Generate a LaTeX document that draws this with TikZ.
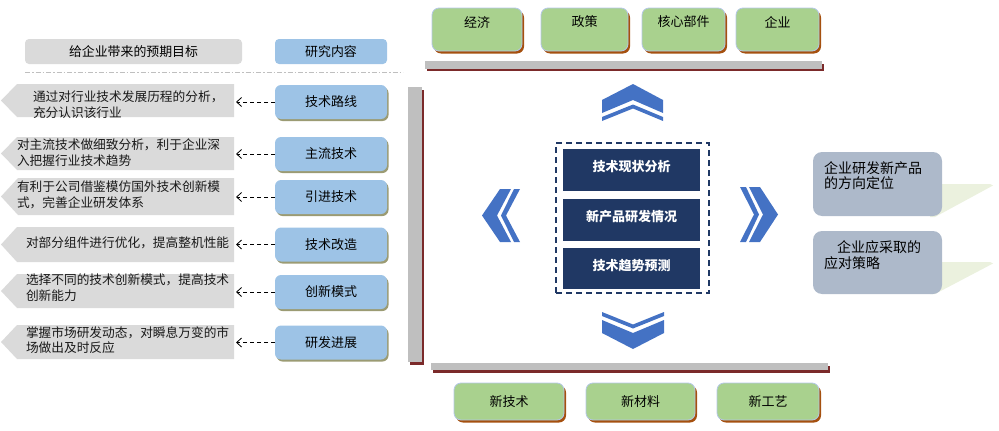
\documentclass[tikz,border=0pt]{standalone}
\usepackage{fontspec}
\newfontfamily\cjk{Noto Sans CJK SC}
\usetikzlibrary{arrows.meta,shadows}
\definecolor{graybox}{HTML}{DADADA}
\definecolor{bluebox}{HTML}{9DC3E6}
\definecolor{blueshadow}{HTML}{9B9B73}
\definecolor{barfill}{HTML}{BFBFBF}
\definecolor{barshadow}{HTML}{7B2A2A}
\definecolor{greenfill}{HTML}{A9D18E}
\definecolor{greenline}{HTML}{B4C7E7}
\definecolor{greenshadow}{HTML}{A5500F}
\definecolor{navy}{HTML}{203864}
\definecolor{chev}{HTML}{4472C4}
\definecolor{rightbox}{HTML}{ADB9CA}
\definecolor{wedgecol}{HTML}{EBF1DE}
\begin{document}
\begin{tikzpicture}[x=1pt,y=-1pt,
  every node/.style={inner sep=0pt, outer sep=0pt},
  lefttext/.style={font=\cjk\fontsize{12.7}{15.5}\selectfont, align=left, anchor=west, text=black!90},
  bluebx/.style={fill=bluebox, rounded corners=6pt, minimum width=112pt, minimum height=34pt,
    drop shadow={shadow xshift=1.5pt, shadow yshift=-2pt, fill=blueshadow, opacity=1},
    font=\cjk\fontsize{13}{15}\selectfont},
  headbx/.style={rounded corners=4pt, minimum height=25pt, font=\cjk\fontsize{12.9}{15}\selectfont},
  greenbx/.style={fill=greenfill, draw=greenline, line width=0.8pt, rounded corners=7pt,
    drop shadow={shadow xshift=2pt, shadow yshift=-2.5pt, fill=greenshadow, opacity=1}},
  greentext/.style={font=\cjk\fontsize{13}{15}\selectfont},
  navybx/.style={fill=navy, minimum width=137pt},
  whitetext/.style={text=white, font=\cjk\bfseries\fontsize{13}{15}\selectfont},
  rightbx/.style={fill=rightbox, rounded corners=9pt, minimum width=129pt},
  righttext/.style={font=\cjk\fontsize{14}{15.5}\selectfont, align=left, anchor=west},
  dasharr/.style={draw=black, dash pattern=on 4pt off 3pt, line width=0.8pt,
    -{Straight Barb[length=5pt,width=9pt]}}
]
\useasboundingbox (0,0) rectangle (999,431);

% ---------- header ----------
\node[headbx, fill=graybox, minimum width=217pt] (h1) at (133.5,51.5) {给企业带来的预期目标};
\node[headbx, fill=bluebox, minimum width=112pt] (h2) at (331,51.5) {研究内容};
\draw[barfill, line width=1pt, dash pattern=on 5pt off 2pt on 1.5pt off 2pt] (25,72) -- (403,72);

% ---------- left rows ----------
% row 1
\fill[graybox] (1,100.5) -- (17,84) -- (234,84) -- (234,117) -- (17,117) -- cycle;
\node[lefttext] (t1) at (33,104.5) {通过对行业技术发展历程的分析，\\充分认识该行业};
\coordinate (g1) at (236,102);
\node[bluebx] (b1) at (331,102) {技术路线};
\draw[dasharr] (b1.west) -- (g1);
% row 2
\fill[graybox] (1,153.5) -- (17,137) -- (234,137) -- (234,170) -- (17,170) -- cycle;
\node[lefttext] (t2) at (17,152.5) {对主流技术做细致分析，利于企业深\\入把握行业技术趋势};
\coordinate (g2) at (236,154);
\node[bluebx] (b2) at (331,154) {主流技术};
\draw[dasharr] (b2.west) -- (g2);
% row 3
\fill[graybox] (1,196.5) -- (18,178) -- (234,178) -- (234,215) -- (18,215) -- cycle;
\node[lefttext] (t3) at (17,195) {有利于公司借鉴模仿国外技术创新模\\式，完善企业研发体系};
\coordinate (g3) at (236,197);
\node[bluebx] (b3) at (331,197) {引进技术};
\draw[dasharr] (b3.west) -- (g3);
% row 4
\fill[graybox] (1,244.5) -- (17,227) -- (234,227) -- (234,262) -- (17,262) -- cycle;
\node[lefttext] (t4) at (26,242.5) {对部分组件进行优化，提高整机性能};
\coordinate (g4) at (236,244.5);
\node[bluebx] (b4) at (331,244.5) {技术改造};
\draw[dasharr] (b4.west) -- (g4);
% row 5
\fill[graybox] (1,291) -- (17,274) -- (234,274) -- (234,308) -- (17,308) -- cycle;
\node[lefttext] (t5) at (26,287.5) {选择不同的技术创新模式，提高技术\\创新能力};
\coordinate (g5) at (236,292);
\node[bluebx] (b5) at (331,292) {创新模式};
\draw[dasharr] (b5.west) -- (g5);
% row 6
\fill[graybox] (1,342) -- (17,325) -- (234,325) -- (234,359) -- (17,359) -- cycle;
\node[lefttext] (t6) at (26,340) {掌握市场研发动态，对瞬息万变的市\\场做出及时反应};
\coordinate (g6) at (236,342.5);
\node[bluebx] (b6) at (331,342.5) {研发进展};
\draw[dasharr] (b6.west) -- (g6);

% ---------- bars ----------
\fill[barshadow] (409.5,89.5) rectangle (423.5,364.5);
\fill[barfill] (408,87) rectangle (422,362);
\fill[barshadow] (427,63.5) rectangle (824,71);
\fill[barfill] (425,61) rectangle (822,68.5);
\fill[barshadow] (433,365.5) rectangle (830,372.5);
\fill[barfill] (431,363.3) rectangle (828,370);

% ---------- top green boxes ----------
\node[greenbx, minimum width=90pt, minimum height=43pt] (k1) at (477,29.5) {};
\node[greentext] at (477,22) {经济};
\node[greenbx, minimum width=87pt, minimum height=43pt] (k2) at (584.5,29.5) {};
\node[greentext] at (584.5,22) {政策};
\node[greenbx, minimum width=83pt, minimum height=43pt] (k3) at (683.5,29.5) {};
\node[greentext] at (683.5,22) {核心部件};
\node[greenbx, minimum width=83pt, minimum height=43pt] (k4) at (777.5,29.5) {};
\node[greentext] at (777.5,22) {企业};

% ---------- bottom green boxes ----------
\node[greenbx, minimum width=110pt, minimum height=37pt, greentext] (n1) at (509,401.5) {新技术};
\node[greenbx, minimum width=109pt, minimum height=37pt, greentext] (n2) at (640.5,401.5) {新材料};
\node[greenbx, minimum width=102pt, minimum height=37pt, greentext] (n3) at (768,401.5) {新工艺};

% ---------- centre ----------
\node[draw=navy, dash pattern=on 6pt off 4pt, line width=1.8pt, minimum width=153pt, minimum height=150pt] (frame) at (632.5,218) {};
\node[navybx, minimum height=42pt] (c1) at (631.5,170) {};
\node[whitetext] at (631.5,167) {技术现状分析};
\node[navybx, minimum height=42pt] (c2) at (631.5,220) {};
\node[whitetext] at (631.5,217) {新产品研发情况};
\node[navybx, minimum height=41pt] (c3) at (631.5,268.5) {};
\node[whitetext] at (631.5,265.5) {技术趋势预测};

% chevrons
\fill[chev] (602,100) -- (633,84) -- (663,100) -- (663,113) -- (633,100) -- (602,113) -- cycle;
\fill[chev] (602,117) -- (633,104.5) -- (663,117) -- (663,121) -- (633,108.5) -- (602,121) -- cycle;
\fill[chev] (602,333) -- (633,349) -- (664,333) -- (664,320) -- (633,333) -- (602,320) -- cycle;
\fill[chev] (602,316) -- (633,328.5) -- (664,316) -- (664,312) -- (633,324.5) -- (602,312) -- cycle;
\fill[chev] (500,189) -- (511,189) -- (497,215.5) -- (511,242) -- (500,242) -- (482,215.5) -- cycle;
\fill[chev] (514,189) -- (520,189) -- (506,215.5) -- (520,242) -- (514,242) -- (501,215.5) -- cycle;
\fill[chev] (760,187) -- (749,187) -- (763,214.5) -- (749,242) -- (760,242) -- (778,214.5) -- cycle;
\fill[chev] (746,187) -- (740,187) -- (754,214.5) -- (740,242) -- (746,242) -- (759,214.5) -- cycle;

% ---------- right ----------
\fill[wedgecol] (930,184) -- (990,184) -- (993,185.5) -- (935,217) -- (930,217) -- cycle;
\fill[wedgecol] (930,262) -- (990,262) -- (993,263.5) -- (935,294) -- (930,294) -- cycle;
\node[rightbx, minimum height=64pt] (r1) at (877.5,184) {};
\node[righttext] at (824,175.5) {企业研发新产品\\的方向定位};
\node[rightbx, minimum height=63pt] (r2) at (877.5,262.5) {};
\node[righttext] at (824,255) {\hspace*{13pt}企业应采取的\\应对策略};
\end{tikzpicture}
\end{document}
